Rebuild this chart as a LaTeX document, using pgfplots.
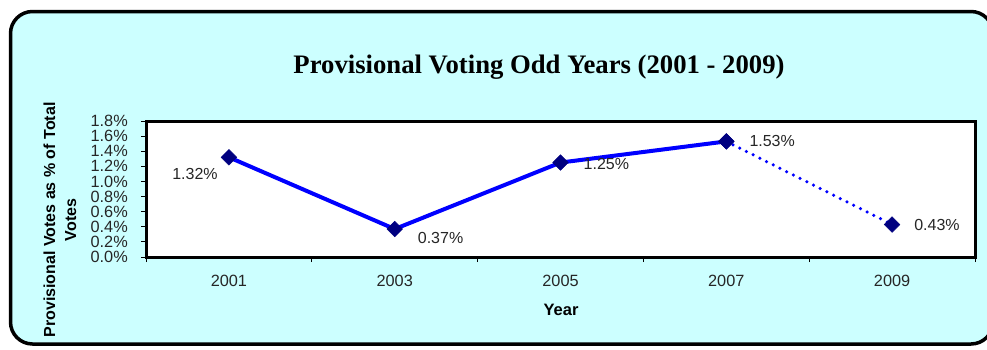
\documentclass[border=0pt]{standalone}
\usepackage{pgfplots}
\pgfplotsset{compat=1.18}
\usepackage{fontspec}
\setmainfont{Liberation Sans}
\newfontfamily\titlefont{Liberation Serif}
\definecolor{bgcyan}{RGB}{204,255,255}
\definecolor{navymark}{RGB}{0,0,128}
\begin{document}
\begin{tikzpicture}
\useasboundingbox (0pt,0pt) rectangle (987pt,-349pt);
\clip (0pt,0pt) rectangle (987pt,-349pt);
\fill[white] (0pt,0pt) rectangle (987pt,-349pt);
\draw[line width=3.5pt, fill=bgcyan, rounded corners=22pt] (10.5pt,-11.5pt) rectangle (993pt,-344pt);
\begin{axis}[
  at={(146pt,-257pt)}, anchor=south west,
  scale only axis, width=829pt, height=136pt,
  xmin=-0.5, xmax=4.5, ymin=0, ymax=1.8,
  clip=false,
  axis background/.style={fill=white},
  axis line style={line width=3pt},
  tick align=outside, tick pos=left,
  major tick length=5pt,
  tick style={black, line width=1pt},
  ytick={0,0.2,0.4,0.6,0.8,1.0,1.2,1.4,1.6,1.8},
  yticklabels={0.0\%,0.2\%,0.4\%,0.6\%,0.8\%,1.0\%,1.2\%,1.4\%,1.6\%,1.8\%},
  xtick={-0.5,0.5,1.5,2.5,3.5,4.5},
  xticklabels={,,,,,},
  extra x ticks={0,1,2,3,4},
  extra x tick labels={2001,2003,2005,2007,2009},
  extra x tick style={major tick length=0pt, tick label style={yshift=-15pt}},
  ticklabel style={font=\fontsize{16.3}{16}\selectfont, text=black!85},
  yticklabel style={xshift=-13pt, inner sep=0pt},
  /pgf/number format/assume math mode=true,
]
\addplot[blue, line width=3.5pt, line cap=round, dash pattern=on 0pt off 7.5pt,
  mark=square*, mark size=5.5pt, mark options={rotate=45, fill=navymark, draw=navymark, line width=0.5pt, solid}]
  coordinates {(3,1.53) (4,0.43)};
\addplot[blue, line width=4pt,
  mark=square*, mark size=5.5pt, mark options={rotate=45, fill=navymark, draw=navymark, line width=0.5pt, solid}]
  coordinates {(0,1.32) (1,0.37) (2,1.25) (3,1.53)};
\begin{scope}[every node/.style={inner sep=0pt, font=\fontsize{16}{16}\selectfont, text=black!85}]
\node[anchor=east, xshift=-11pt, yshift=-17pt] at (axis cs:0,1.32) {1.32\%};
\node[anchor=west, xshift=23pt, yshift=-9pt] at (axis cs:1,0.37) {0.37\%};
\node[anchor=west, xshift=23pt, yshift=-1pt] at (axis cs:2,1.25) {1.25\%};
\node[anchor=west, xshift=23pt, yshift=0pt] at (axis cs:3,1.53) {1.53\%};
\node[anchor=west, xshift=22pt, yshift=0pt] at (axis cs:4,0.43) {0.43\%};
\end{scope}
\end{axis}
\node[anchor=base, font=\titlefont\bfseries\fontsize{26.7}{30}\selectfont] at (539pt,-73pt) {Provisional Voting Odd Years (2001 - 2009)};
\node[rotate=90, align=center, font=\bfseries\fontsize{16}{21}\selectfont] at (60pt,-220pt) {Provisional Votes as \% of Total\\Votes};
\node[font=\bfseries\fontsize{16.5}{18}\selectfont] at (561pt,-310pt) {Year};
\end{tikzpicture}
\end{document}
